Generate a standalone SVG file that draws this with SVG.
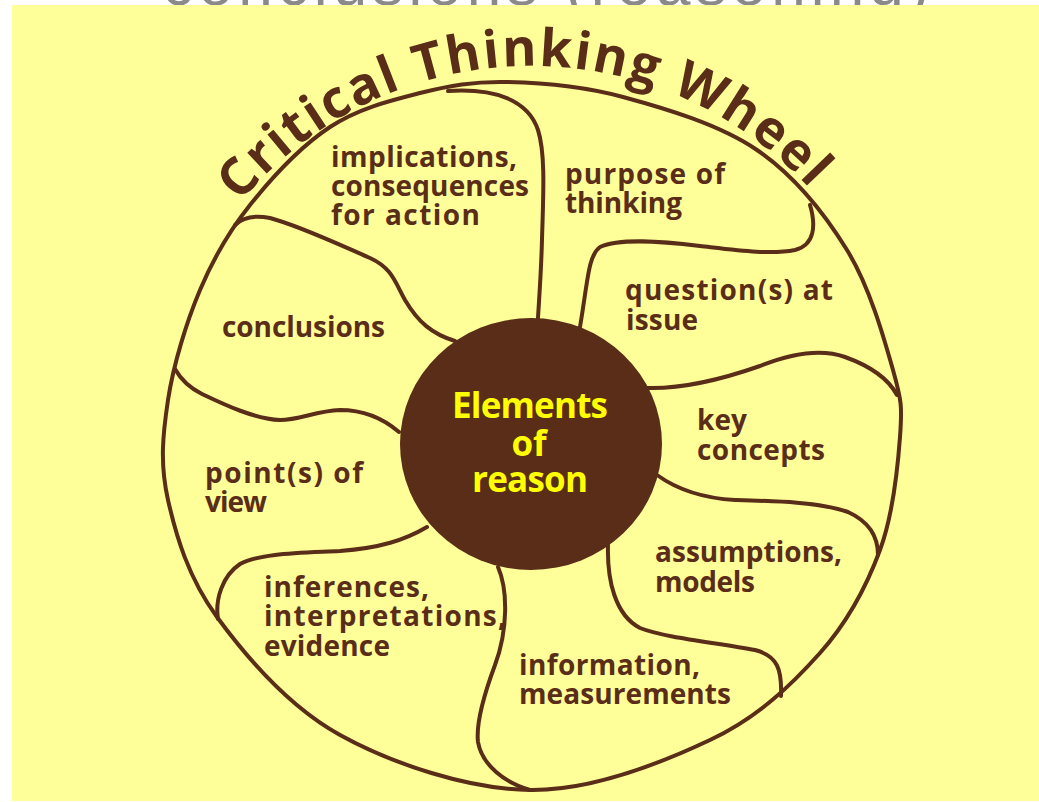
<svg xmlns="http://www.w3.org/2000/svg" xmlns:xlink="http://www.w3.org/1999/xlink" width="1039" height="802" viewBox="0 0 1039 802">
  <defs>
    <style>
      .ln { fill: none; stroke: #5A2D18; stroke-width: 4; stroke-linecap: round; stroke-linejoin: round; }
      .lbl { font-family: "Open Sans", "Noto Sans", sans-serif; font-weight: 700; font-size: 28px; fill: #5A2D18; }
      .ctr { font-family: "Open Sans", "Noto Sans", sans-serif; font-weight: 700; font-size: 35px; fill: #FFFF00; text-anchor: middle; }
      .ttl { font-family: "Open Sans", "Noto Sans", sans-serif; font-weight: 700; font-size: 52px; fill: #5A2D18; }
      .top { font-family: "Liberation Sans", "Open Sans", sans-serif; font-size: 62px; fill: #8A8A8A; text-anchor: middle; }
    </style>
    <path id="titleArc" d="M 203.6 255 A 378 378 0 0 1 858.4 255"/>
  </defs>

  <rect x="0" y="0" width="1039" height="802" fill="#FFFFFF"/>
  <text class="top" x="546" y="4.5" textLength="767">conclusions (reasoning)</text>
  <rect x="12" y="5" width="1027" height="796" fill="#FFFF99"/>

  <g id="title">
    <text class="ttl"><textPath xlink:href="#titleArc" href="#titleArc" startOffset="386.6" text-anchor="middle" textLength="645">Critical Thinking Wheel</textPath></text>
  </g>

  <g id="wheel">
    <path class="ln" d="M507,82 C540.8,82.7 581.3,85.7 623,97 C664.7,108.3 719.7,124.5 757,150 C794.3,175.5 824.3,213.3 847,250 C869.7,286.7 884.2,338.8 893,370 C901.8,401.2 902.2,407 900,437 C897.8,467 893.3,514 880,550 C866.7,586 848.3,621.3 820,653 C791.7,684.7 758.3,717.2 710,740 C661.7,762.8 591.7,790.8 530,790 C468.3,789.2 392.2,763.8 340,735 C287.8,706.2 245.7,656.2 217,617 C188.3,577.8 176.2,536.2 168,500 C159.8,463.8 162.7,435 168,400 C173.3,365 186.3,322.5 200,290 C213.7,257.5 228.3,232.2 250,205 C271.7,177.8 301.7,145.7 330,127 C358.3,108.3 390.5,100.5 420,93 C449.5,85.5 473.2,81.3 507,82 Z"/>
  </g>

  <g id="connectors">
    <path class="ln" d="M448,91 C495,88 528,100 538,130 C546,155 543,200 542,240 C541,275 539,300 538,318"/>
    <path class="ln" d="M810,205 C816,225 815,245 795,250 C770,255 735,250 700,246 C660,241 620,238 600,247 C588,256 588,280 580,327"/>
    <path class="ln" d="M647,388 C680,389 720,380 760,366 C790,354 820,348 845,357 C870,366 888,378 897,395"/>
    <path class="ln" d="M657,475 C675,488 700,498 735,500 C775,501 820,502 848,512 C870,522 878,538 878,555"/>
    <path class="ln" d="M608,545 C607,580 615,615 640,628 C665,638 720,643 755,650 C778,656 782,670 781,696"/>
    <path class="ln" d="M498,567 C508,590 508,630 495,665 C482,700 476,725 478,742 C482,765 505,783 530,790"/>
    <path class="ln" d="M427,527 C405,540 380,548 340,551 C300,553 260,553 240,564 C222,576 215,600 218,619"/>
    <path class="ln" d="M399,432 C385,420 365,410 340,410 C315,411 300,420 280,420 C255,419 225,405 202,394 C188,387 180,378 175,369"/>
    <path class="ln" d="M455,341 C432,334 418,322 405,300 C395,282 392,268 370,258 C340,245 300,226 270,218 C255,215 243,217 235,225"/>
  </g>

  <g id="center">
    <ellipse cx="531" cy="444" rx="131" ry="126" fill="#5A2D18"/>
    <text class="ctr"><tspan x="530" y="418" textLength="156">Elements</tspan><tspan x="529" y="456">of</tspan><tspan x="530" y="492" textLength="116">reason</tspan></text>
  </g>

  <g id="implications">
    <text class="lbl"><tspan x="331" y="167" textLength="186">implications,</tspan><tspan x="331" y="196" textLength="198">consequences</tspan><tspan x="331" y="225" textLength="149">for action</tspan></text>
  </g>
  <g id="purpose">
    <text class="lbl"><tspan x="565" y="184" textLength="160">purpose of</tspan><tspan x="565" y="213" textLength="117">thinking</tspan></text>
  </g>
  <g id="questions">
    <text class="lbl"><tspan x="625" y="300" textLength="208">question(s) at</tspan><tspan x="626" y="330" textLength="72">issue</tspan></text>
  </g>
  <g id="key-concepts">
    <text class="lbl"><tspan x="697" y="430" textLength="50">key</tspan><tspan x="697" y="460" textLength="128">concepts</tspan></text>
  </g>
  <g id="assumptions">
    <text class="lbl"><tspan x="655" y="562" textLength="187">assumptions,</tspan><tspan x="655" y="592" textLength="100">models</tspan></text>
  </g>
  <g id="information">
    <text class="lbl"><tspan x="519" y="675" textLength="181">information,</tspan><tspan x="519" y="704" textLength="212">measurements</tspan></text>
  </g>
  <g id="inferences">
    <text class="lbl"><tspan x="264" y="597" textLength="165">inferences,</tspan><tspan x="264" y="626" textLength="242">interpretations,</tspan><tspan x="264" y="656" textLength="126">evidence</tspan></text>
  </g>
  <g id="points-of-view">
    <text class="lbl"><tspan x="205" y="483" textLength="158">point(s) of</tspan><tspan x="205" y="512" textLength="62">view</tspan></text>
  </g>
  <g id="conclusions">
    <text class="lbl" x="222" y="337" textLength="163">conclusions</text>
  </g>
</svg>
